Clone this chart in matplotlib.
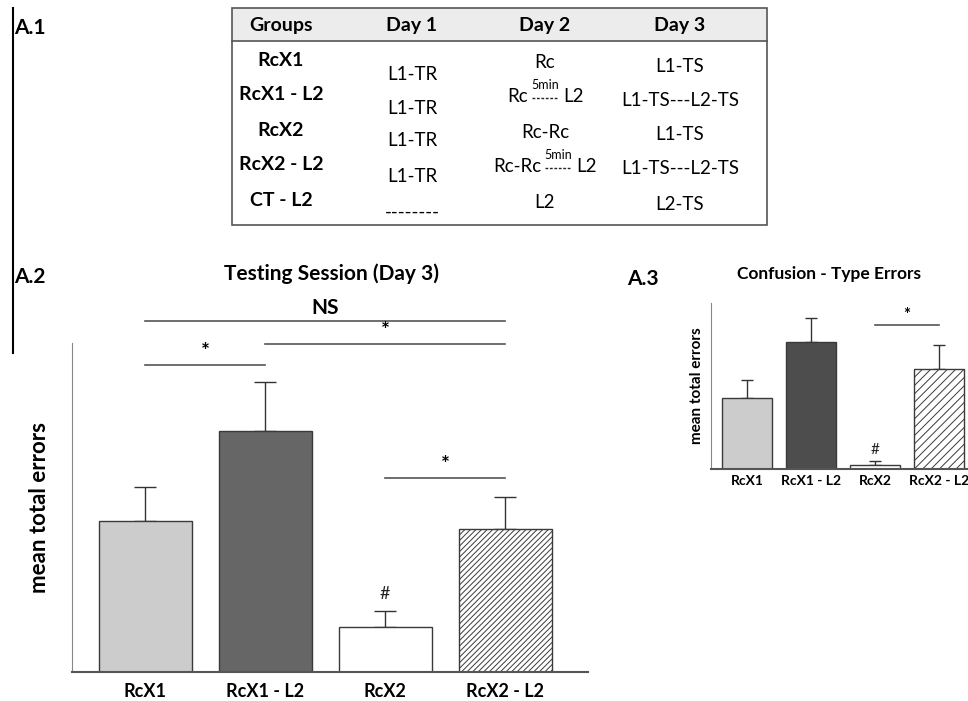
import matplotlib.pyplot as plt
from matplotlib.patches import Rectangle

plt.rcParams['font.family'] = ['Lato', 'DejaVu Sans']
plt.rcParams['hatch.linewidth'] = 0.7

# data
groups = ['RcX1', 'RcX1 - L2', 'RcX2', 'RcX2 - L2']
test_mean = [15.1, 24.1, 4.5, 14.3]
test_sem = [3.4, 4.9, 1.6, 3.2]
conf_mean = [14.2, 25.4, 0.8, 20.0]
conf_sem = [3.6, 4.8, 0.8, 4.8]

# significance brackets (bar a, bar b, height, label)
test_sig = [(0, 3, 35.1, 'NS'), (1, 3, 32.8, '*'), (0, 1, 30.7, '*'), (2, 3, 19.4, '*')]
conf_sig = [(2, 3, 28.8, '*')]

# protocol table
tab_header = ['Groups', 'Day 1', 'Day 2', 'Day 3']
tab_groups = ['RcX1', 'RcX1 - L2', 'RcX2', 'RcX2 - L2', 'CT - L2']
tab_day1 = ['L1-TR', 'L1-TR', 'L1-TR', 'L1-TR', '--------']
tab_day2 = ['Rc', ('Rc', 'L2'), 'Rc-Rc', ('Rc-Rc', 'L2'), 'L2']
tab_day3 = ['L1-TS', 'L1-TS---L2-TS', 'L1-TS', 'L1-TS---L2-TS', 'L2-TS']

fills_test = ['#cccccc', '#666666', 'white', 'white']
fills_conf = ['#cccccc', '#4d4d4d', 'white', 'white']
hatch_test = ['', '', '', '//////']
hatch_conf = ['', '', '', '////']

W, H = 968, 701
fig = plt.figure(figsize=(W / 100, H / 100), dpi=100)

# background layer in pixel coordinates for table and panel labels
bg = fig.add_axes([0, 0, 1, 1])
bg.set_xlim(0, W)
bg.set_ylim(H, 0)
bg.axis('off')

bg.plot([13, 13], [8, 353], color='black', lw=1.5)
for lab, x, y in [('A.1', 14, 28), ('A.2', 14, 277), ('A.3', 627, 279)]:
    bg.text(x, y, lab, fontsize=15, fontweight='bold', ha='left', va='center')

# table
tx0, tx1, ty0, ty1, thead = 232, 767, 8, 225, 41
bg.add_patch(Rectangle((tx0, ty0), tx1 - tx0, thead - ty0, facecolor='#ececec',
                       edgecolor='none'))
bg.add_patch(Rectangle((tx0, ty0), tx1 - tx0, ty1 - ty0, facecolor='none',
                       edgecolor='#555555', lw=1.2))
bg.plot([tx0, tx1], [thead, thead], color='#555555', lw=1.2)

col_x = [281, 412, 545, 680]
for cx, h in zip(col_x, tab_header):
    bg.text(cx, 25, h, fontsize=14, fontweight='bold', ha='center', va='center')

rows_g = [60, 95, 130, 165, 200]
rows_d1 = [75, 108, 141, 176, 212]
rows_d2 = [63, 97, 132, 167, 202]
rows_d3 = [67, 100, 135, 169, 205]
mid_shift = [0, 0, 0, 13, 0]

for i in range(5):
    bg.text(col_x[0], rows_g[i], tab_groups[i], fontsize=14, fontweight='bold',
            ha='center', va='center')
    bg.text(col_x[1], rows_d1[i], tab_day1[i], fontsize=13.5, ha='center', va='center')
    bg.text(col_x[3], rows_d3[i], tab_day3[i], fontsize=13.5, ha='center', va='center')
    d2 = tab_day2[i]
    if isinstance(d2, tuple):
        mx = col_x[2] + mid_shift[i]
        bg.text(mx - 17, rows_d2[i], d2[0], fontsize=13.5, ha='right', va='center')
        bg.text(mx + 18, rows_d2[i], d2[1], fontsize=13.5, ha='left', va='center')
        bg.text(mx, rows_d2[i] - 6, '5min', fontsize=9, ha='center', va='bottom')
        bg.plot([mx - 13, mx + 13], [rows_d2[i] + 1, rows_d2[i] + 1], color='#222222',
                lw=1, ls=(0, (2, 1.2)))
    else:
        bg.text(col_x[2], rows_d2[i], d2, fontsize=13.5, ha='center', va='center')


def bar_panel(ax, means, sems, fills, hatches, sigs, width, cap, lab_fs, ylab_fs,
              sig_dy, hash_dy, hash_fs, star_fs):
    x = list(range(len(means)))
    for xi, m, f, h in zip(x, means, fills, hatches):
        ax.bar(xi, m, width=width, color=f, edgecolor='#3a3a3a', hatch=h, lw=1,
               zorder=2)
    ax.errorbar(x, means, yerr=[[0] * len(sems), sems], fmt='none', ecolor='#333333',
                elinewidth=1, capsize=cap, capthick=1, zorder=1)
    for a, b, y, lab in sigs:
        ax.plot([a, b], [y, y], color='#555555', lw=1.2, clip_on=False)
        ax.text((a + b) / 2, y + sig_dy, lab, ha='center', va='bottom',
                fontsize=star_fs if lab == '*' else lab_fs + 2, fontweight='bold')
    ax.text(2, means[2] + sems[2] + hash_dy, '#', ha='center', va='center',
            fontsize=hash_fs, color='#222222')
    ax.set_xticks(x)
    ax.set_xticklabels(groups, fontsize=lab_fs, fontweight='bold')
    ax.tick_params(axis='x', length=0, pad=8)
    ax.set_yticks([])
    ax.set_ylabel('mean total errors', fontsize=ylab_fs, fontweight='bold')
    ax.spines['top'].set_visible(False)
    ax.spines['right'].set_visible(False)
    ax.spines['left'].set_color('#888888')
    ax.spines['bottom'].set_color('#555555')
    ax.spines['bottom'].set_linewidth(1.5)
    ax.set_facecolor('none')


# A.2 testing session
ax1 = fig.add_axes([72 / W, (H - 672) / H, (588 - 72) / W, (672 - 343) / H])
bar_panel(ax1, test_mean, test_sem, fills_test, hatch_test, test_sig, 0.775, 8,
          13, 16, 0.3, 1.7, 13, 15)
ax1.set_xlim(-0.61, 3.69)
ax1.set_ylim(0, 32.9)
ax1.yaxis.labelpad = 16
bg.text(332, 274, 'Testing Session (Day 3)', fontsize=15, fontweight='bold',
        ha='center', va='center')

# A.3 confusion type errors
ax2 = fig.add_axes([711 / W, (H - 469) / H, (968 - 711) / W, (469 - 303) / H])
bar_panel(ax2, conf_mean, conf_sem, fills_conf, hatch_conf, conf_sig, 0.78, 4,
          10, 11, 0.4, 2.2, 11, 12)
ax2.set_xlim(-0.5625, 3.45)
ax2.set_ylim(0, 33.2)
ax2.tick_params(axis='x', pad=4)
ax2.yaxis.labelpad = 5
bg.text(829, 274, 'Confusion - Type Errors', fontsize=12.5, fontweight='bold',
        ha='center', va='center')

fig.savefig('out.png', dpi=100)
